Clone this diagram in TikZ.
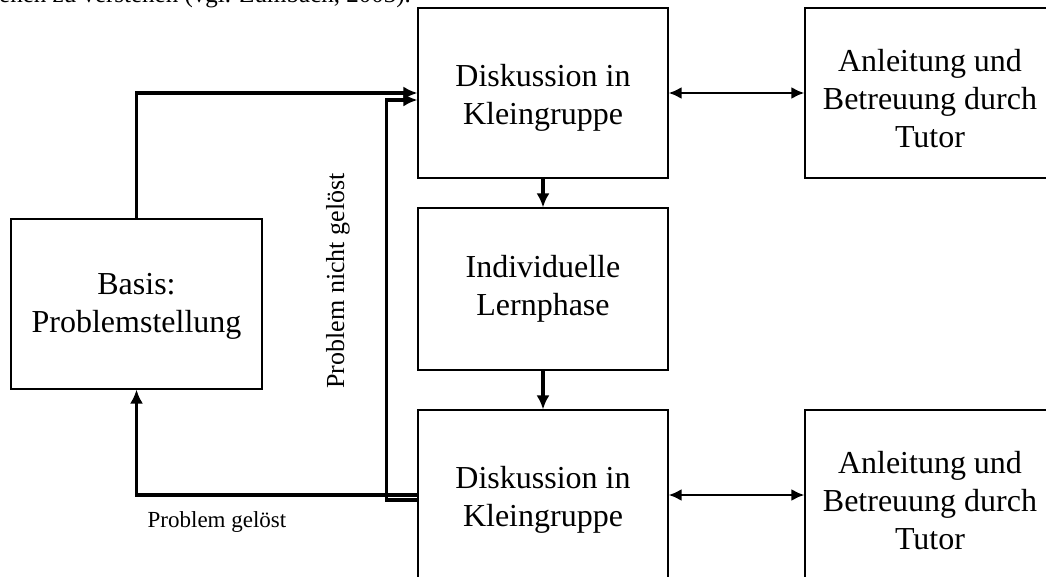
\documentclass[tikz,border=0pt]{standalone}
\usepackage{fontspec}
\setmainfont{Liberation Serif}
\usetikzlibrary{arrows.meta}
\tikzset{bx/.append style={draw, line width=1.1pt, minimum width=250pt, minimum height=170pt, inner sep=0pt, align=center, font=\fontsize{32}{38}\selectfont}}
\tikzset{ar/.append style={line width=3.4pt, -{Latex[length=14pt,width=13pt]}}}
\tikzset{dar/.append style={line width=2.6pt, {Latex[length=13pt,width=12pt]}-{Latex[length=13pt,width=12pt]}}}

\begin{document}
\begin{tikzpicture}[x=1pt,y=-1pt]
                \useasboundingbox (0,0) rectangle (1046,576);
                % cut-off text line above the figure
                \node[anchor=base west, inner sep=0pt, font=\fontsize{25}{30}\selectfont] (txt) at (-1,2.5) {ehen zu verstehen (vgl. Zumbach, 2003).};
                % boxes
                \node[bx, text height=70pt] (disk1) at (543,93) {Diskussion in\\Kleingruppe};
                \node[bx, text height=110pt] (tut1) at (930,93) {Anleitung und\\Betreuung durch\\Tutor};
                \node[bx, minimum height=162pt] (lern) at (543,289) {Individuelle\\Lernphase};
                \node[bx, text height=70pt] (disk2) at (543,495) {Diskussion in\\Kleingruppe};
                \node[bx, text height=110pt] (tut2) at (930,495) {Anleitung und\\Betreuung durch\\Tutor};
                \node[bx, minimum width=251pt, text height=64pt] (basis) at (136.5,304) {Basis:\\Problemstellung};
                % labels
                \node[rotate=90, font=\fontsize{26}{30}\selectfont] (nicht) at (338,281) {Problem nicht gel\"ost};
                \node[font=\fontsize{23}{28}\selectfont] (geloest) at (217,522) {Problem gel\"ost};
                % connectors
                \draw[ar] (basis.north) |- (disk1.west);
                \draw[ar] (disk2.west) -| (basis.south);
                \draw[ar] ([yshift=-5pt]disk2.west) -- ++(-31,0) |- ([yshift=-7pt]disk1.west);
                \path (disk1) edge[ar] (lern);
                \path (lern) edge[ar] (disk2);
                \path (disk1) edge[dar] (tut1);
                \path (disk2) edge[dar] (tut2);
            \end{tikzpicture}
\end{document}
